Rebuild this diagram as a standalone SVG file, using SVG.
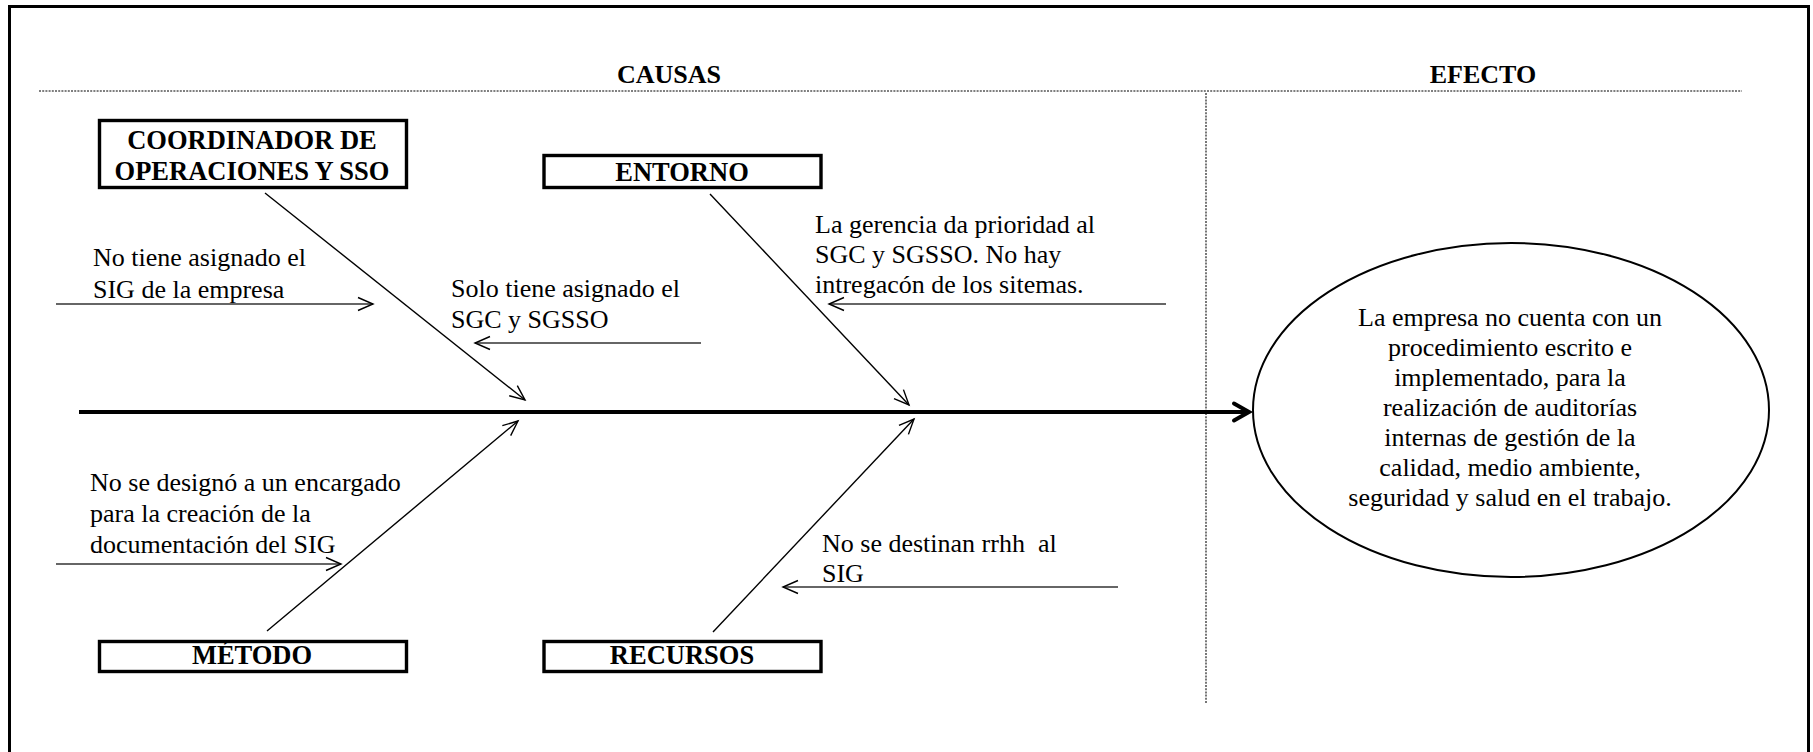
<svg xmlns="http://www.w3.org/2000/svg" width="1813" height="752" viewBox="0 0 1813 752">
  <style>
    .bg { fill: #ffffff; }
    .frame { fill: none; stroke: #000; stroke-width: 3; }
    .dots { fill: none; stroke: #555; stroke-width: 1.6; stroke-dasharray: 2 1.2; }
    .box { fill: #ffffff; stroke: #000; stroke-width: 3.4; }
    .lbl { font-family: "Liberation Serif", "Times New Roman", serif; font-weight: bold; font-size: 26.5px; fill: #000; text-anchor: middle; }
    .hdr { font-size: 26px; }
    .txt { font-family: "Liberation Serif", "Times New Roman", serif; font-size: 26px; fill: #000; white-space: pre; }
    .ctr { text-anchor: middle; }
    .bone { fill: none; stroke: #000; stroke-width: 1.4; }
    .cause { fill: none; stroke: #333; stroke-width: 1.4; }
    .spine { fill: none; stroke: #000; stroke-width: 4; }
    .effect { fill: #ffffff; stroke: #000; stroke-width: 2; }
  </style>
  <defs>
    <marker id="arrowThin" viewBox="-20 -10 22 20" refX="0" refY="0" markerWidth="22" markerHeight="20" markerUnits="userSpaceOnUse" orient="auto" overflow="visible">
      <path d="M-15,-6.5 L0,0 L-15,6.5" fill="none" stroke="#000" stroke-width="1.4"/>
    </marker>
    <marker id="arrowThick" viewBox="-20 -12 22 24" refX="0" refY="0" markerWidth="22" markerHeight="24" markerUnits="userSpaceOnUse" orient="auto" overflow="visible">
      <path d="M-15,-8.5 L0,0 L-15,8.5" fill="none" stroke="#000" stroke-width="4" stroke-linecap="round" stroke-linejoin="miter"/>
    </marker>
  </defs>

  <rect class="bg" x="0" y="0" width="1813" height="752"/>
  <rect class="frame" x="9.5" y="6.5" width="1799" height="770"/>

  <g id="headers">
    <line class="dots" x1="39" y1="91" x2="1742" y2="91"/>
    <line class="dots" x1="1206" y1="93" x2="1206" y2="703"/>
    <text class="lbl hdr" x="669" y="83">CAUSAS</text>
    <text class="lbl hdr" x="1483" y="83">EFECTO</text>
  </g>

  <g id="connectors">
    <line class="spine" x1="79" y1="412" x2="1249" y2="412" marker-end="url(#arrowThick)"/>
    <line class="bone" x1="265" y1="193" x2="525" y2="400" marker-end="url(#arrowThin)"/>
    <line class="bone" x1="710" y1="194" x2="909" y2="405" marker-end="url(#arrowThin)"/>
    <line class="bone" x1="267" y1="631" x2="518" y2="421" marker-end="url(#arrowThin)"/>
    <line class="bone" x1="713" y1="632" x2="914" y2="419" marker-end="url(#arrowThin)"/>
    <line class="cause" x1="56" y1="304" x2="373" y2="304" marker-end="url(#arrowThin)"/>
    <line class="cause" x1="701" y1="343" x2="475" y2="343" marker-end="url(#arrowThin)"/>
    <line class="cause" x1="1166" y1="304" x2="829" y2="304" marker-end="url(#arrowThin)"/>
    <line class="cause" x1="56" y1="564" x2="341" y2="564" marker-end="url(#arrowThin)"/>
    <line class="cause" x1="1118" y1="587" x2="783" y2="587" marker-end="url(#arrowThin)"/>
  </g>

  <g id="node-coordinador">
    <rect class="box" x="99.5" y="120.5" width="307" height="67"/>
    <text class="lbl" x="252" y="149">COORDINADOR DE</text>
    <text class="lbl" x="252" y="180">OPERACIONES Y SSO</text>
  </g>
  <g id="node-entorno">
    <rect class="box" x="544" y="155.5" width="277" height="32"/>
    <text class="lbl" x="682" y="181">ENTORNO</text>
  </g>
  <g id="node-metodo">
    <rect class="box" x="99.5" y="641.5" width="307" height="30"/>
    <text class="lbl" x="252" y="664">MÉTODO</text>
  </g>
  <g id="node-recursos">
    <rect class="box" x="544" y="641.5" width="277" height="30"/>
    <text class="lbl" x="682" y="664">RECURSOS</text>
  </g>

  <g id="cause-1">
    <text class="txt" x="93" y="266">No tiene asignado el</text>
    <text class="txt" x="93" y="298">SIG de la empresa</text>
  </g>
  <g id="cause-2">
    <text class="txt" x="451" y="297">Solo tiene asignado el</text>
    <text class="txt" x="451" y="328">SGC y SGSSO</text>
  </g>
  <g id="cause-3">
    <text class="txt" x="815" y="233">La gerencia da prioridad al</text>
    <text class="txt" x="815" y="263">SGC y SGSSO. No hay</text>
    <text class="txt" x="815" y="293">intregacón de los sitemas.</text>
  </g>
  <g id="cause-4">
    <text class="txt" x="90" y="491">No se designó a un encargado</text>
    <text class="txt" x="90" y="522">para la creación de la</text>
    <text class="txt" x="90" y="553">documentación del SIG</text>
  </g>
  <g id="cause-5">
    <text class="txt" x="822" y="552">No se destinan rrhh  al</text>
    <text class="txt" x="822" y="582">SIG</text>
  </g>

  <g id="node-efecto">
    <ellipse class="effect" cx="1511" cy="410" rx="258" ry="167"/>
    <text class="txt ctr" x="1510" y="326">La empresa no cuenta con un</text>
    <text class="txt ctr" x="1510" y="356">procedimiento escrito e</text>
    <text class="txt ctr" x="1510" y="386">implementado, para la</text>
    <text class="txt ctr" x="1510" y="416">realización de auditorías</text>
    <text class="txt ctr" x="1510" y="446">internas de gestión de la</text>
    <text class="txt ctr" x="1510" y="476">calidad, medio ambiente,</text>
    <text class="txt ctr" x="1510" y="506">seguridad y salud en el trabajo.</text>
  </g>
</svg>
